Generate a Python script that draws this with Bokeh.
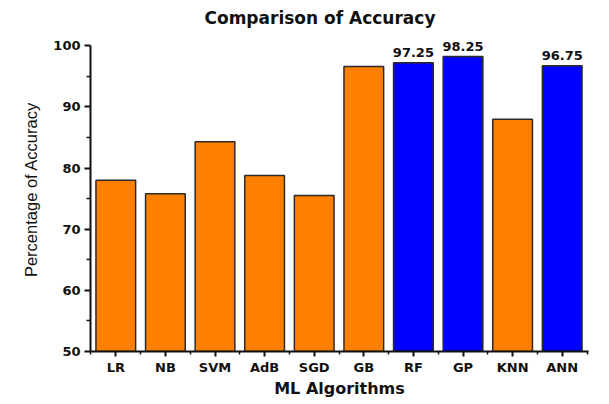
from bokeh.plotting import figure
from bokeh.models import ColumnDataSource, FixedTicker, Range1d, LabelSet
from bokeh.embed import file_html
from bokeh.resources import INLINE
from bokeh.core.properties import value

algorithms = ["LR", "NB", "SVM", "AdB", "SGD", "GB", "RF", "GP", "KNN", "ANN"]
accuracy = [78.0, 75.8, 84.3, 78.8, 75.5, 96.6, 97.25, 98.25, 88.0, 96.75]
highlight = [False, False, False, False, False, False, True, True, False, True]
y_ticks = [50, 60, 70, 80, 90, 100]

ORANGE = "#FF8000"
BLUE = "#0000FF"

xs = list(range(1, len(algorithms) + 1))
colors = [BLUE if h else ORANGE for h in highlight]
src = ColumnDataSource(dict(x=xs, y=accuracy, color=colors, name=algorithms))

lab_x = [x for x, h in zip(xs, highlight) if h]
lab_y = [v for v, h in zip(accuracy, highlight) if h]
lab_t = ["%.2f" % v for v in lab_y]
lab_src = ColumnDataSource(dict(x=lab_x, y=lab_y, t=lab_t))

p = figure(width=605, height=400, output_backend="svg", toolbar_location=None,
           x_range=Range1d(0.49, 10.53), y_range=Range1d(50, 103),
           min_border_left=90, min_border_right=17, min_border_top=27, min_border_bottom=48,
           title="Comparison of Accuracy")

p.vbar(x="x", top="y", bottom=50, width=0.8, fill_color="color", line_color="#2a2a2a",
       line_width=1.5, source=src)
labels = LabelSet(x="x", y="y", text="t", source=lab_src, text_align="center",
                  text_baseline="bottom", y_offset=6, text_font=value("DejaVu Sans"),
                  text_font_style="bold", text_font_size="13px", text_color="#111111")
p.add_layout(labels)

p.title.align = "left"
p.title.offset = 114
p.title.text_font = "DejaVu Sans"
p.title.text_font_size = "17px"
p.title.text_font_style = "bold"
p.title.text_color = "#111111"
p.title.standoff = 0

p.xgrid.visible = False
p.ygrid.visible = False
p.outline_line_color = None

xa = p.xaxis[0]
xa.ticker = FixedTicker(ticks=xs, minor_ticks=[x - 0.5 for x in xs] + [xs[-1] + 0.5])
xa.major_label_overrides = {x: n for x, n in zip(xs, algorithms)}
xa.axis_label = "ML Algorithms"
xa.axis_label_text_font = "DejaVu Sans"
xa.axis_label_text_font_size = "16px"
xa.axis_label_text_font_style = "bold"
xa.axis_label_text_color = "#111111"
xa.axis_label_standoff = 1
xa.major_label_text_font = "DejaVu Sans"
xa.major_label_text_font_size = "13px"
xa.major_label_text_font_style = "bold"
xa.major_label_text_color = "#111111"
xa.major_label_standoff = 3

ya = p.yaxis[0]
ya.bounds = (50, 100)
ya.ticker = FixedTicker(ticks=y_ticks, minor_ticks=[t + 5 for t in y_ticks[:-1]])
ya.axis_label = "Percentage of Accuracy"
ya.axis_label_text_font = "Liberation Sans"
ya.axis_label_text_font_size = "16.5px"
ya.axis_label_text_font_style = "normal"
ya.axis_label_text_color = "#111111"
ya.axis_label_standoff = 10
ya.major_label_text_font = "DejaVu Sans"
ya.major_label_text_font_size = "13px"
ya.major_label_text_font_style = "bold"
ya.major_label_text_color = "#111111"
ya.major_label_standoff = 4

for ax in (xa, ya):
    ax.axis_line_width = 2
    ax.axis_line_color = "#111111"
    ax.major_tick_line_width = 2
    ax.major_tick_line_color = "#111111"
    ax.minor_tick_line_width = 1.5
    ax.minor_tick_line_color = "#111111"
    ax.major_tick_in = 0
    ax.minor_tick_in = 0
xa.major_tick_out = 5
xa.minor_tick_out = 3
ya.major_tick_out = 6
ya.minor_tick_out = 4

open("out.html", "w").write(file_html(p, INLINE))
